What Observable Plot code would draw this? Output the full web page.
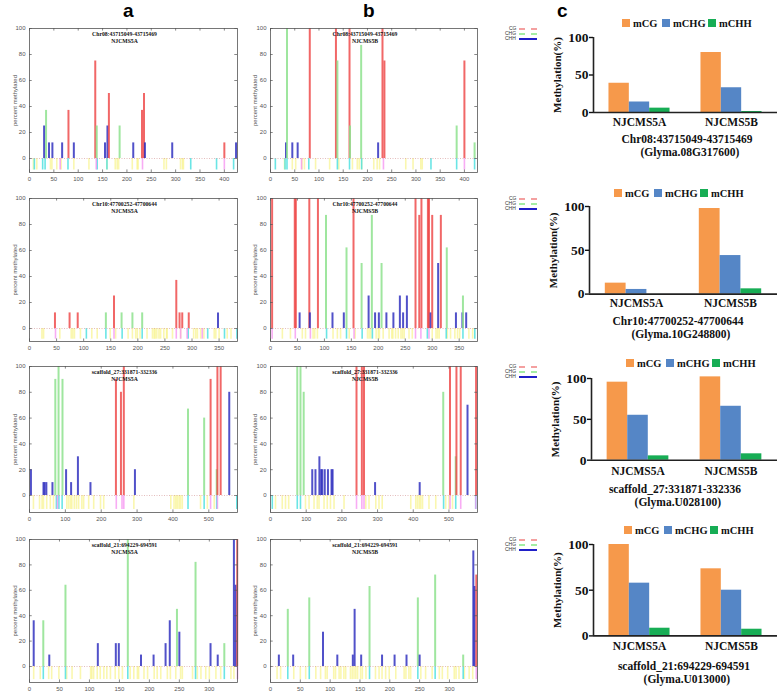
<!DOCTYPE html>
<html><head><meta charset="utf-8">
<script src="https://cdn.jsdelivr.net/npm/d3@7"></script>
<script src="https://cdn.jsdelivr.net/npm/@observablehq/plot@0.6"></script>
<style>
body{margin:0;background:#fff;}
#root{position:relative;width:779px;height:693px;overflow:hidden;background:#fff;}
#root svg{position:absolute;overflow:visible;}
.letter{position:absolute;font:bold 19px "Liberation Sans",Arial,sans-serif;line-height:1;}
.glegend{position:absolute;font:5px "Liberation Sans",Arial,sans-serif;color:#333;}
.glegend div{position:absolute;white-space:nowrap;line-height:5px;}
.glegend span{position:absolute;left:14px;width:18px;top:2px;}
.citem{position:absolute;display:flex;align-items:center;font:bold 10.5px "Liberation Serif","Times New Roman",serif;color:#111;white-space:nowrap;height:12px;}
.citem i{display:inline-block;width:8px;height:8px;margin-right:3px;}
.ctitle{position:absolute;width:200px;text-align:center;font:bold 11.5px "Liberation Serif","Times New Roman",serif;color:#111;line-height:13px;}
</style></head><body><div id="root"></div>
<script>
// ---------- data ----------
const regions = ["Chr08:43715049-43715469","Chr10:47700252-47700644","scaffold_27:331871-332336","scaffold_21:694229-694591"];
const genes = ["(Glyma.08G317600)","(Glyma.10G248800)","(Glyma.U028100)","(Glyma.U013000)"];
const samples = ["NJCMS5A","NJCMS5B"];
const contexts = ["CG","CHG","CHH"];
const mContexts = ["mCG","mCHG","mCHH"];
const regionExtent = [427, 384, 580, 347];
const xTickStep = [50, 50, 100, 50];
const yTicksPct = [0,20,40,60,80,100];
const yTicksMeth = [0,50,100];

// panel a / b : [position, percent methylated, context]
const a1Bars = [[30,25,"CHH"],[34,37,"CHG"],[40,12,"CHH"],[47,12,"CHH"],[67,12,"CHH"],[80,37,"CG"],[91,12,"CHH"],[135,75,"CG"],[138,25,"CHG"],[155,12,"CHH"],[160,25,"CHH"],[163,50,"CG"],[185,25,"CHG"],[213,12,"CHH"],[231,37,"CG"],[235,50,"CG"],[237,12,"CHH"],[293,12,"CHH"],[400,12,"CG"],[424,12,"CHH"]];
const b1Bars = [[32,12,"CHH"],[34,100,"CHG"],[45,12,"CHH"],[56,12,"CHH"],[81,100,"CG"],[135,100,"CG"],[138,75,"CHG"],[163,100,"CG"],[164,25,"CHG"],[187,87,"CHG"],[222,12,"CHH"],[231,100,"CG"],[235,75,"CG"],[384,25,"CHG"],[400,75,"CG"],[421,12,"CHG"]];
const a2Bars = [[47,12,"CG"],[74,12,"CG"],[89,12,"CG"],[141,12,"CHG"],[156,25,"CG"],[170,12,"CHG"],[190,12,"CHG"],[208,12,"CHG"],[271,37,"CG"],[277,12,"CG"],[282,12,"CG"],[294,12,"CG"],[348,12,"CHH"]];
const b2Bars = [[3,100,"CG"],[45,100,"CG"],[47,100,"CG"],[54,12,"CHH"],[72,100,"CG"],[73,12,"CHH"],[88,100,"CG"],[103,87,"CHG"],[115,12,"CHH"],[136,12,"CHH"],[141,62,"CHG"],[154,100,"CG"],[169,50,"CHG"],[182,25,"CHH"],[188,87,"CHG"],[194,12,"CHH"],[201,12,"CHH"],[206,50,"CHG"],[215,12,"CHH"],[228,12,"CHH"],[240,25,"CHH"],[246,12,"CHH"],[253,25,"CHH"],[269,100,"CG"],[276,87,"CG"],[280,100,"CG"],[292,100,"CG"],[294,100,"CG"],[297,12,"CHH"],[300,87,"CG"],[311,50,"CHH"],[316,87,"CG"],[327,62,"CHG"],[344,12,"CHH"],[356,12,"CHH"],[357,25,"CHG"],[363,12,"CHH"]];
const a3Bars = [[4,20,"CHH"],[39,10,"CHH"],[42,10,"CHH"],[47,10,"CHH"],[64,10,"CHH"],[72,90,"CHG"],[81,100,"CHG"],[92,90,"CHG"],[102,20,"CHH"],[116,10,"CHH"],[135,30,"CHH"],[170,10,"CHH"],[241,90,"CG"],[255,80,"CG"],[263,100,"CG"],[294,20,"CHH"],[442,67,"CHG"],[487,60,"CHG"],[505,90,"CG"],[522,20,"CHG"],[524,100,"CG"],[533,100,"CG"],[557,80,"CHH"]];
const b3Bars = [[75,100,"CHG"],[84,100,"CHG"],[93,80,"CHG"],[117,20,"CHH"],[126,20,"CHH"],[137,30,"CHH"],[142,20,"CHH"],[145,20,"CHH"],[152,20,"CHH"],[161,20,"CHH"],[171,20,"CHH"],[174,20,"CHH"],[241,100,"CG"],[256,100,"CG"],[262,100,"CG"],[293,10,"CHH"],[418,10,"CHH"],[484,80,"CHG"],[503,100,"CG"],[519,30,"CHG"],[521,100,"CG"],[533,100,"CG"],[552,70,"CHH"],[576,100,"CG"]];
const a4Bars = [[7,36,"CHH"],[23,36,"CHG"],[33,9,"CHH"],[60,64,"CHG"],[114,18,"CHH"],[144,18,"CHH"],[149,18,"CHH"],[164,100,"CHG"],[186,9,"CHH"],[207,9,"CHH"],[227,18,"CHH"],[234,36,"CHH"],[246,45,"CHG"],[250,27,"CHH"],[277,82,"CHG"],[302,18,"CHH"],[314,9,"CHH"],[325,18,"CHG"],[341,100,"CHH"],[344,64,"CHH"],[346.5,100,"CG"]];
const b4Bars = [[14,9,"CHH"],[29,45,"CHG"],[38,9,"CHH"],[65,54,"CHG"],[88,27,"CHH"],[112,9,"CHH"],[138,9,"CHH"],[141,45,"CHH"],[152,9,"CHH"],[166,63,"CHG"],[187,9,"CHH"],[208,9,"CHH"],[228,9,"CHH"],[247,54,"CHG"],[250,9,"CHH"],[276,72,"CHG"],[323,9,"CHG"],[340,91,"CHH"],[342,63,"CHH"],[345,72,"CG"]];

// cytosine sites drawn below zero
const a1CHH = [8,15,43,46,56,65,91,122,159,176,180,183,211,221,223,276,281,310,314,316];
const a1CHG = [10,27,32,79,139,159,331,384,419];
const a1CG  = [63,137,232,400];
const b1CHH = [29,45,52,65,70,93,122,141,169,179,183,188,213,220,225,279,294,310,313];
const b1CHG = [10,30,34,79,138,163,188,331,384,421];
const b1CG  = [64,233,400];
const a2CHH = [23,26,56,77,80,83,94,115,125,149,159,182,190,196,199,204,217,227,230,232,235,239,242,248,253,254,264,279,303,307,310,316,322,341,344,350,365,372];
const a2CHG = [105,141,171,208,293,329,360,383];
const a2CG  = [48,156,271,279,291,319];
const b2CHH = [22,37,59,65,79,82,87,116,124,130,146,157,180,183,186,196,200,202,209,220,225,227,232,237,242,245,248,257,263,300,307,310,313,328,334,342,347,351,368,375];
const b2CHG = [104,141,170,189,291,326,357,379];
const b2CG  = [3,46,74,155,269,279,294];
const a3CHH = [11,28,35,39,48,58,67,104,109,114,118,125,131,137,146,151,165,179,198,207,291,394,403,408,412,417,421,426,477,496,515];
const a3CHG = [75,82,91,442,487,522,578];
const a3CG  = [78,242,258,263,505,524];
const b3CHH = [14,33,42,51,98,108,122,131,136,150,159,168,178,206,267,276,295,304,313,393,407,412,417,421,426,444,463,491,500,510];
const b3CHG = [5,75,84,485,519,575];
const b3CG  = [241,256,262,503,533,575];
const a4CHH = [7,18,32,37,49,62,71,85,102,104,107,113,118,124,129,135,143,149,155,168,174,180,182,191,197,208,213,219,230,235,244,252,255,272,280,286,294,300,311,319,336,341];
const a4CHG = [23,60,164,277,325];
const a4CG  = [347];
const b4CHH = [11,17,39,50,59,76,84,92,95,106,109,115,118,123,126,134,137,140,143,146,151,154,160,176,182,187,193,199,210,224,227,232,235,252,260,271,283,288,297,308,311,316,325,333,339];
const b4CHG = [29,65,166,247,276,323];
const b4CG  = [345];

// panel c : methylation (%) [sample][mCG, mCHG, mCHH]
const cMeth1 = [[39,14,5.8],[80,33,1.3]];
const cMeth2 = [[12.5,5.3,0],[97.7,44,6]];
const cMeth3 = [[95.5,55,5.3],[102,66,7.8]];
const cMeth4 = [[100,57.7,8.4],[73.4,50,7.3]];

// ---------- layout ----------
const root = document.getElementById("root");
const sans = '"Liberation Sans", Arial, sans-serif';
const serif = '"Liberation Serif", "Times New Roman", serif';
const rowsAB = [
  {top:28, y0:158, bottom:172},
  {top:198, y0:328, bottom:341},
  {top:366, y0:495, bottom:512},
  {top:539, y0:666, bottom:682}
];
const rowsC = [
  {top:37, bottom:112, left:592, cat:11, legend:23, lx:622, t1:140, tx:687},
  {top:205.7, bottom:293.3, left:589, cat:10.7, legend:193, lx:614, t1:322, tx:678},
  {top:378.3, bottom:460, left:591, cat:13, legend:363, lx:626, t1:490, tx:675},
  {top:544.3, bottom:635.7, left:593, cat:12.3, legend:530, lx:624, t1:667, tx:684}
];
const ctxColor = {domain: contexts, range: ["#ee4545","#8ae08a","#2b2bbd"]};
const cColors = ["#f6994b","#5586c6","#17ad55"];

function place(svg, left, top) {
  svg.style.left = left + "px"; svg.style.top = top + "px";
  root.appendChild(svg);
}

function gnuPanel(bars, chh, chg, cg, r, sample, svgLeft, frameLeft, frameRight, labOff) {
  const row = rowsAB[r];
  const xmax = regionExtent[r];
  const mTop = 4, mBottom = 16, svgW = frameRight - frameLeft + (frameLeft - svgLeft) + 6;
  const ymin = -(row.bottom - row.y0) / (row.y0 - row.top) * 100;
  const xt = d3.range(0, xmax + 1, xTickStep[r]);
  const tx = xmax * 0.013, ty = (100 - ymin) * 0.018;
  const depth = ymin * 0.82;
  const svg = Plot.plot({
    width: svgW, height: mTop + (row.bottom - row.top) + mBottom,
    marginTop: mTop, marginBottom: mBottom, marginLeft: frameLeft - svgLeft, marginRight: 6,
    x: {domain: [0, xmax]},
    y: {domain: [ymin, 100]},
    color: ctxColor,
    style: {fontSize: "6px", fontFamily: sans, color: "#444", background: "transparent", overflow: "visible"},
    marks: [
      Plot.ruleX(chh, {x: d => d, y1: 0, y2: depth, stroke: "#f6f27a", strokeWidth: 1.6, strokeOpacity: 0.6}),
      Plot.ruleX(chg, {x: d => d, y1: 0, y2: depth, stroke: "#45dede", strokeWidth: 1.6, strokeOpacity: 0.8}),
      Plot.ruleX(cg, {x: d => d, y1: 0, y2: depth, stroke: "#f590f0", strokeWidth: 1.6, strokeOpacity: 0.75}),
      Plot.ruleY([0], {stroke: "#d9a0a0", strokeDasharray: "1,1.5", strokeWidth: 0.7}),
      Plot.ruleX(bars, {x: d => d[0], y1: 0, y2: d => d[1], stroke: d => d[2], strokeWidth: 2, strokeOpacity: 0.82}),
      Plot.frame({stroke: "#555", strokeWidth: 0.8}),
      Plot.ruleY(yTicksPct, {y: d => d, x1: 0, x2: tx, stroke: "#555", strokeWidth: 0.7}),
      Plot.ruleY(yTicksPct, {y: d => d, x1: xmax - tx, x2: xmax, stroke: "#555", strokeWidth: 0.7}),
      Plot.ruleX(xt, {x: d => d, y1: ymin, y2: ymin + ty, stroke: "#555", strokeWidth: 0.7}),
      Plot.ruleX(xt, {x: d => d, y1: 100 - ty, y2: 100, stroke: "#555", strokeWidth: 0.7}),
      Plot.axisX(xt, {tickSize: 0, tickPadding: 4, label: null, fill: "#555"}),
      Plot.axisY(yTicksPct, {tickSize: 0, tickPadding: 4, fill: "#555", label: "percent methylated", labelAnchor: "center", labelOffset: labOff, labelArrow: "none"}),
      Plot.text([regions[r] + "\n" + sample], {frameAnchor: "top", dx: -9, dy: 3, lineAnchor: "top", lineHeight: 1.15, fontFamily: serif, fontWeight: "bold", fontSize: 5.7, fill: "#111"})
    ]
  });
  place(svg, svgLeft, row.top - mTop);
}

function ctxLegend(r) {
  const top = rowsAB[r].top;
  const d = document.createElement("div");
  d.className = "glegend";
  d.style.left = "505px"; d.style.top = (top - 2) + "px";
  const styles = [["#f4a0a0","dashed"],["#a4eea4","dashed"],["#2020c8","solid"]];
  contexts.forEach((c, i) => {
    const line = document.createElement("div");
    line.style.top = (i * 5) + "px";
    line.style.left = (c === "CG" ? 4 : 0) + "px";
    line.textContent = c;
    d.appendChild(line);
    const s = document.createElement("span");
    s.style.top = (i * 5 + 2) + "px";
    s.style.borderTop = `2px ${styles[i][1]} ${styles[i][0]}`;
    d.appendChild(s);
  });
  root.appendChild(d);
}

function barPanel(vals, r) {
  const row = rowsC[r];
  const outer = 0.76;
  const recs = [];
  samples.forEach((s, i) => mContexts.forEach((c, j) => recs.push({s, c, j, v: vals[i][j]})));
  const mTop = 5, mBottom = 24, svgLeft = 520;
  const svg = Plot.plot({
    width: 259, height: mTop + (row.bottom - row.top) + mBottom,
    marginTop: mTop, marginBottom: mBottom, marginLeft: row.left - svgLeft, marginRight: 779 - 777,
    fx: {domain: samples, padding: 0, label: null},
    x: {domain: [-outer, 3 + outer], axis: null},
    y: {domain: [0, 100]},
    color: {domain: mContexts, range: cColors},
    style: {fontFamily: serif, fontWeight: "bold", fontSize: "13px", color: "#111", background: "transparent", overflow: "visible"},
    marks: [
      Plot.rectY(recs, {fx: "s", x1: "j", x2: d => d.j + 1, y1: 0, y2: "v", fill: "c"}),
      Plot.ruleY([0], {stroke: "#222", strokeWidth: 1.6}),
      Plot.ruleX([samples[0]], {fx: d => d, x: () => -outer, y1: 0, y2: 100, stroke: "#222", strokeWidth: 1.6}),
      Plot.axisY(yTicksMeth, {tickSize: 4, tickPadding: 1, strokeWidth: 1.4, label: "Methylation(%)", labelAnchor: "center", labelOffset: 40, labelArrow: "none", fontSize: 11, tickFormat: null}),
      Plot.axisFx({anchor: "bottom", tickSize: 0, tickPadding: row.cat - 6, label: null, fontSize: 11.5})
    ]
  });
  // tick labels slightly larger than axis title
  svg.querySelectorAll("g[aria-label='y-axis tick label'] text").forEach(t => t.setAttribute("font-size", 13.5));
  place(svg, svgLeft, row.top - mTop);

  const offs = [0, 40, 86];
  mContexts.forEach((c, i) => {
    const it = document.createElement("div");
    it.className = "citem";
    it.style.left = (row.lx + offs[i]) + "px"; it.style.top = (row.legend - 6) + "px";
    it.innerHTML = `<i style="background:${cColors[i]}"></i>${c}`;
    root.appendChild(it);
  });

  const t = document.createElement("div");
  t.className = "ctitle";
  t.style.left = (row.tx - 100) + "px"; t.style.top = (row.t1 - 7) + "px";
  t.innerHTML = `${regions[r]}<br>&nbsp;&nbsp;${genes[r]}`;
  root.appendChild(t);
}

// letters
[["a",123],["b",363],["c",557]].forEach(([l, x]) => {
  const d = document.createElement("div");
  d.className = "letter"; d.textContent = l;
  d.style.left = x + "px"; d.style.top = "1px";
  root.appendChild(d);
});

const allA = [[a1Bars,a1CHH,a1CHG,a1CG],[a2Bars,a2CHH,a2CHG,a2CG],[a3Bars,a3CHH,a3CHG,a3CG],[a4Bars,a4CHH,a4CHG,a4CG]];
const allB = [[b1Bars,b1CHH,b1CHG,b1CG],[b2Bars,b2CHH,b2CHG,b2CG],[b3Bars,b3CHH,b3CHG,b3CG],[b4Bars,b4CHH,b4CHG,b4CG]];
const allC = [cMeth1, cMeth2, cMeth3, cMeth4];
for (let r = 0; r < 4; r++) {
  gnuPanel(...allA[r], r, samples[0], 0, 29, 237, 17);
  gnuPanel(...allB[r], r, samples[1], 244, 270, 477, 18);
  ctxLegend(r);
  barPanel(allC[r], r);
}
</script></body></html>
